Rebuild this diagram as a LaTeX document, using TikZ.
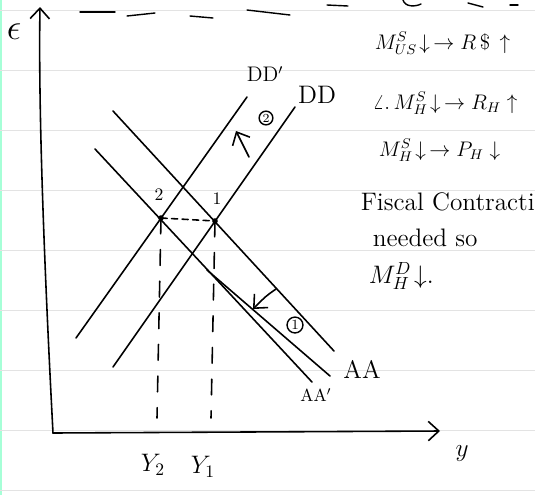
\documentclass[tikz,border=0pt]{standalone}
\usetikzlibrary{arrows.meta}
\begin{document}
\begin{tikzpicture}[x=0.02cm, y=-0.02cm, line width=0.9pt, line cap=round,
    >={Straight Barb[length=6pt,width=11pt]}]
  \useasboundingbox (0,0) rectangle (535,495);
  % Notebook page
  \fill[white] (0,0) rectangle (535,495);
  \fill[green!45!cyan!35] (0,0) rectangle (2.5,495);
  \foreach \y in {10,70,...,490}
    \draw[gray!22, line width=0.4pt] (0,\y) -- (535,\y);
  \foreach \a/\b/\c/\d in {80/12/115/12, 127/16/155/13, 190/16/213/18, 247/10/290/15,
                           327/5/348/6, 468/3/483/7, 510/5/518/5}
    \draw[line width=0.8pt] (\a,\b) -- (\c,\d);
  \draw[line width=0.8pt] (403,0) .. controls (405,7) and (415,7) .. (421,4);

  % Axes
  \coordinate (O) at (53,433);
  \coordinate (Etop) at (40,7);
  \coordinate (Yend) at (440,431);
  \draw[->] (O) .. controls (46,300) and (38,120) .. (Etop);
  \draw[->] (O) -- (Yend);
  \node at (14,32) {\huge$\epsilon$};
  \node at (462,454) {\Large$y$};

  % Equilibria
  \coordinate (P2) at (161,218);
  \coordinate (P1) at (215,221);

  % DD and DD'
  \coordinate (DDa) at (113,367);
  \coordinate (DDb) at (295,107);
  \coordinate (DDpa) at (76,338);
  \coordinate (DDpb) at (247,97);
  \draw (DDa) -- (DDb) node[above right=-2pt] {\Large DD};
  \draw (DDpa) -- (DDpb);
  \node at (265,74) {\large DD$'$};

  % AA and AA'
  \coordinate (AAa) at (113,111);
  \coordinate (AAb) at (334,351);
  \coordinate (AApa) at (95,149);
  \coordinate (AApb) at (312,382);
  \coordinate (AApc) at (207,270);
  \coordinate (AApd) at (330,376);
  \draw (AAa) -- (AAb);
  \node at (362,369) {\Large AA};
  \draw (AApa) -- (AApb);
  \draw (AApc) -- (AApd);
  \node at (316,395) {AA$'$};

  % Dashed guides
  \draw[dash pattern=on 3.5pt off 2.5pt] (P2) -- (P1);
  \draw[dash pattern=on 9pt off 9pt] (P2) -- (157,418);
  \draw[dash pattern=on 9pt off 9pt] (P1) -- (211,418);
  \fill (P2) circle (1.6pt);
  \fill (P1) circle (1.6pt);
  \node at (159,195) {2};
  \node at (217,199) {1};
  \node at (153,465) {\Large$Y_2$};
  \node at (203,467) {\Large$Y_1$};

  % Shifts
  \draw[->] (249,157) -- (236,131);
  \node[circle, draw, line width=0.8pt, inner sep=0.6pt, font=\scriptsize] at (266,118) {2};
  \draw[->] (276,289) .. controls (266,296) .. (253,309);
  \node[circle, draw, line width=0.8pt, inner sep=0.8pt, font=\footnotesize] at (295,325) {1};

  % Notes
  \begin{scope}[every node/.style={anchor=west, inner sep=0pt}]
    \node at (374,43) {\large$M^S_{US}\!\downarrow\,\rightarrow R\,\$\,\uparrow$};
    \node at (372,103) {\large$\angle.\,M^S_H\!\downarrow\,\rightarrow R_H\uparrow$};
    \node at (378,150) {\large$M^S_H\!\downarrow\,\rightarrow P_H\downarrow$};
    \node at (360,202) {\Large Fiscal Contraction};
    \node at (372,238) {\Large needed so};
    \node at (368,276) {\Large$M^D_H\!\downarrow$.};
  \end{scope}
\end{tikzpicture}
\end{document}
